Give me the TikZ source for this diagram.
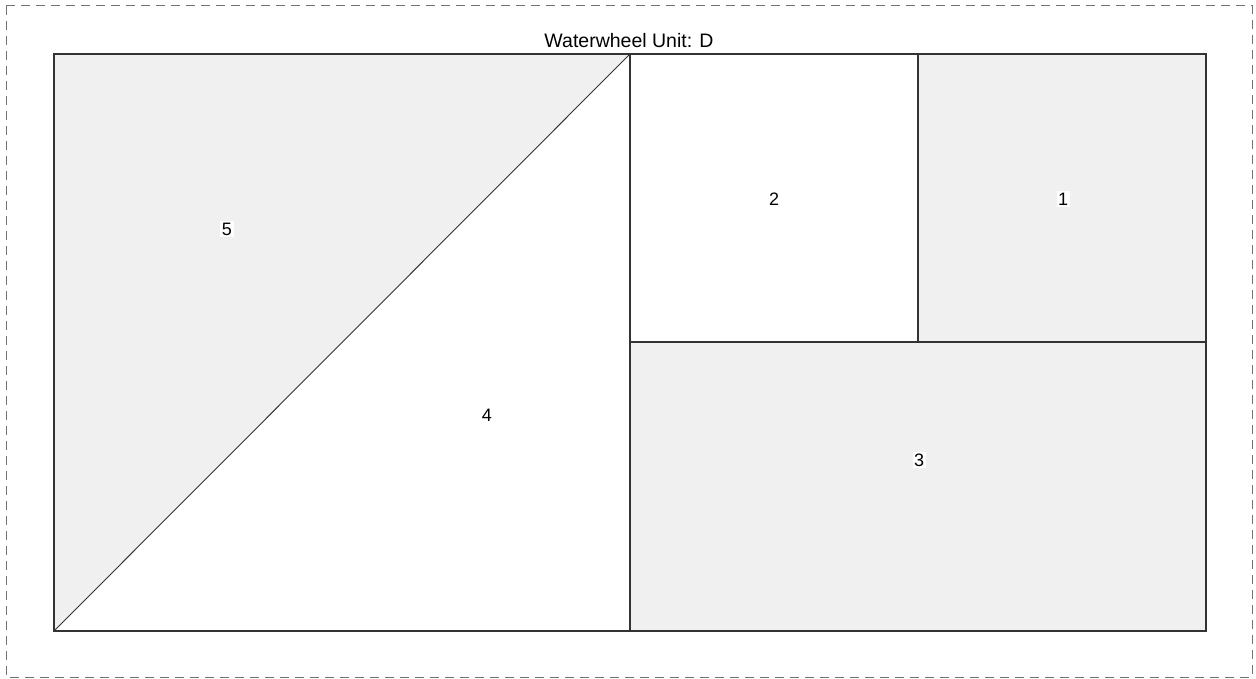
\documentclass[tikz,border=0pt]{standalone}
\usepackage{fontspec}
\setmainfont{Liberation Sans}
\begin{document}
\begin{tikzpicture}[x=1pt,y=-1pt,
  region/.style={draw=black!80,line width=1.2pt},
  shaded/.style={fill=black!6},
  lbl/.style={fill=white,inner sep=1.5pt,font=\fontsize{18}{20}\selectfont},
  frame/.style={draw=black!55,dash pattern=on 9pt off 6pt,line width=1pt}]
\useasboundingbox (0,0) rectangle (1256,679);
\draw[frame] (6,6) rectangle (1252,677);
\coordinate (TL) at (54,54);
\coordinate (BL) at (54,631);
\coordinate (TM) at (630,54);
\coordinate (BM) at (630,631);
\coordinate (TR) at (1206,54);
\coordinate (BR) at (1206,631);
\coordinate (ML) at (630,342);
\coordinate (MR) at (1206,342);
\coordinate (T2) at (918,54);
\coordinate (M2) at (918,342);
% filled regions
\fill[shaded] (TL) -- (TM) -- (BL) -- cycle;
\fill[shaded] (T2) rectangle (MR);
\fill[shaded] (ML) rectangle (BR);
% outlines
\draw[region] (TL) rectangle (BR);
\draw[region] (TM) -- (BM);
\draw[region] (ML) -- (MR);
\draw[region] (T2) -- (M2);
\draw[region,line width=0.9pt] (BL) -- (TM);
% labels
\node[lbl] (n5) at (227,229) {5};
\node[lbl] (n4) at (487,415) {4};
\node[lbl] (n2) at (774,199) {2};
\node[lbl] (n1) at (1063,199) {1};
\node[lbl] (n3) at (919,460) {3};
\node[font=\fontsize{19.5}{22}\selectfont] (title) at (629,41) {Waterwheel Unit: D};
\end{tikzpicture}
\end{document}
